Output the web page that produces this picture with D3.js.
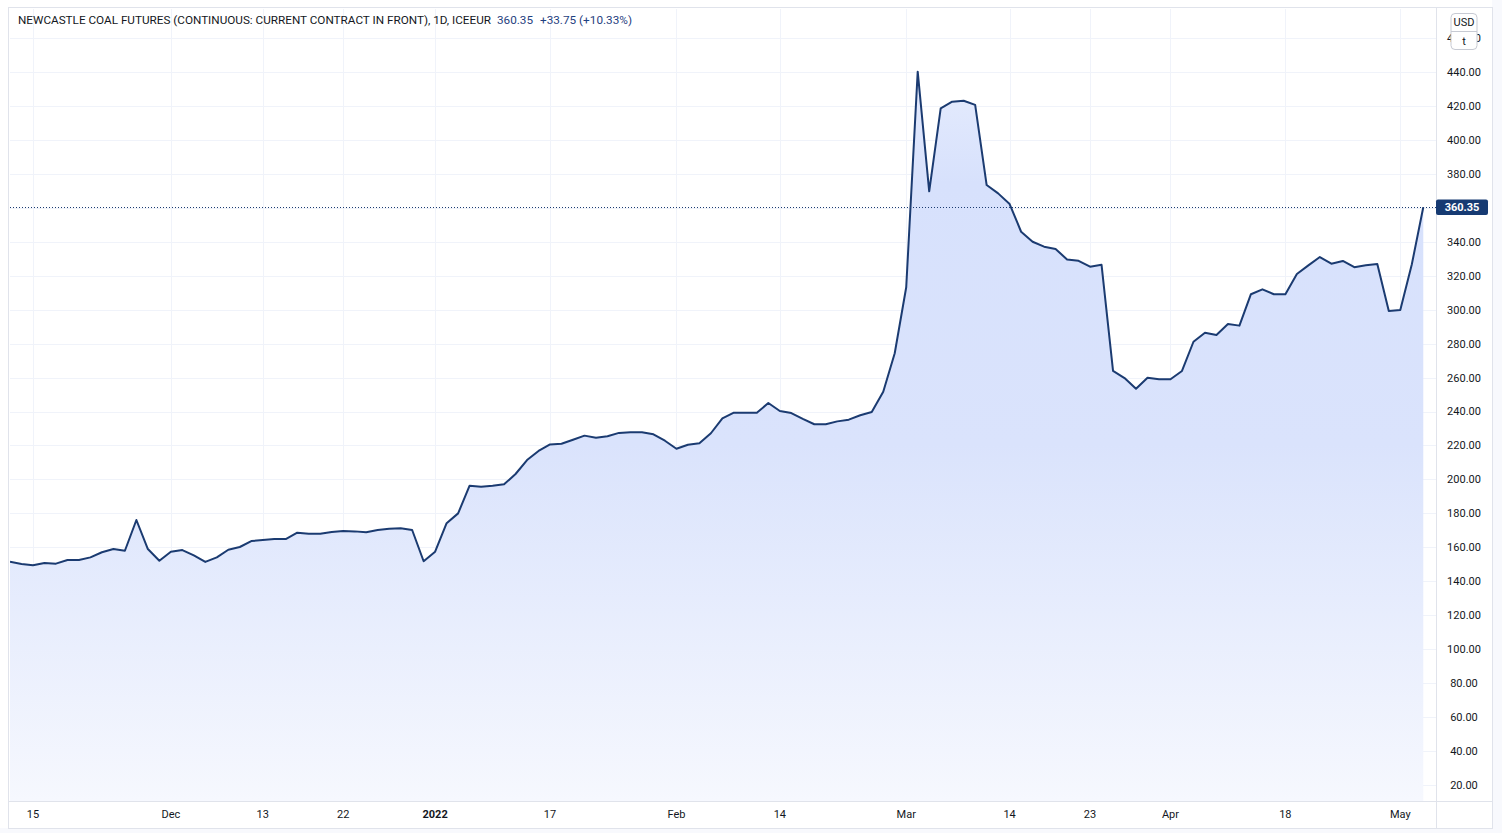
<!DOCTYPE html>
<html>
<head>
<meta charset="utf-8">
<script src="https://cdn.jsdelivr.net/npm/d3@7"></script>
<style>
  html, body { margin: 0; padding: 0; background: #ffffff; }
  svg { display: block; }
</style>
</head>
<body>
<svg id="chart" width="1502" height="833"></svg>
<script>
// ---- data ----
const titleText = "NEWCASTLE COAL FUTURES (CONTINUOUS: CURRENT CONTRACT IN FRONT), 1D, ICEEUR";
const lastText = "360.35";
const changeText = "+33.75 (+10.33%)";
const lastPrice = 360.35;

// daily closes, one per trading day (index 0 = first visible bar)
const closes = [
  151.5, 150.2, 149.4, 150.8, 150.4, 152.5, 152.5, 154.1, 157.1, 159.0,
  158.0, 176.1, 159.0, 152.1, 157.4, 158.4, 155.3, 151.4, 154.1, 158.6,
  160.2, 163.7, 164.3, 164.9, 164.9, 168.6, 168.0, 168.0, 169.0, 169.6,
  169.4, 168.9, 170.2, 171.0, 171.2, 170.2, 151.8, 157.4, 174.2, 180.0,
  196.3, 195.7, 196.3, 197.1, 203.2, 211.4, 216.8, 220.6, 221.0, 223.4,
  225.8, 224.6, 225.4, 227.4, 227.8, 227.8, 226.6, 222.8, 218.1, 220.4,
  221.3, 227.2, 236.0, 239.3, 239.3, 239.3, 245.0, 240.3, 239.1, 235.7,
  232.5, 232.5, 234.2, 235.2, 237.8, 239.7, 251.7, 274.3, 313.2, 440.2,
  369.7, 418.6, 422.5, 423.1, 420.6, 373.4, 368.5, 362.2, 345.9, 340.0,
  337.1, 335.7, 329.6, 328.8, 325.3, 326.4, 264.0, 259.7, 253.4, 259.9,
  259.0, 259.0, 263.9, 281.1, 286.4, 285.1, 291.6, 290.6, 309.1, 312.0,
  309.1, 309.1, 321.0, 326.1, 331.0, 327.1, 328.7, 325.0, 326.1, 326.9,
  299.2, 299.8, 326.6, 360.35
];

const timeTickIndex = [2, 14, 22, 29, 37, 47, 58, 67, 78, 87, 94, 101, 111, 121];
const timeTickLabels = ["15", "Dec", "13", "22", "2022", "17", "Feb", "14", "Mar", "14", "23", "Apr", "18", "May"];
const boldTickLabels = ["2022"];

const priceTicks = [20, 40, 60, 80, 100, 120, 140, 160, 180, 200, 220, 240, 260, 280, 300, 320, 340, 360, 380, 400, 420, 440, 460];

// ---- layout ----
const W = 1502, H = 833;
const frame = { left: 9, top: 8, right: 1492, bottom: 828 };
const plot = { left: 10, top: 9, right: 1436, bottom: 801 };
const lineColor = "#1b3b71";
const gridColor = "#f0f3fa";
const borderColor = "#e0e3eb";
const textColor = "#131722";
const FONT = "Roboto, 'Liberation Sans', sans-serif";

const svg = d3.select("#chart");

const x = d3.scaleLinear().domain([0, 123]).range([10, 10 + 123 * 11.49]);
const y = d3.scaleLinear().domain([20, 440]).range([785, 72]);

// background
svg.append("rect").attr("x", 0).attr("y", 0).attr("width", W).attr("height", H).attr("fill", "#ffffff");
svg.append("rect").attr("x", 0).attr("y", frame.bottom).attr("width", W).attr("height", H - frame.bottom).attr("fill", "#f8f9fd");
svg.append("rect").attr("x", frame.right).attr("y", 0).attr("width", W - frame.right).attr("height", H).attr("fill", "#f8f9fd");

const defs = svg.append("defs");
defs.append("clipPath").attr("id", "plotClip")
  .append("rect").attr("x", plot.left).attr("y", plot.top)
  .attr("width", plot.right - plot.left).attr("height", plot.bottom - plot.top);

const grad = defs.append("linearGradient").attr("id", "areaGrad")
  .attr("gradientUnits", "userSpaceOnUse")
  .attr("x1", 0).attr("x2", 0).attr("y1", plot.top).attr("y2", plot.bottom);
grad.append("stop").attr("offset", "0").attr("stop-color", "#eef2fe");
grad.append("stop").attr("offset", "0.22").attr("stop-color", "#d7e1fc");
grad.append("stop").attr("offset", "0.55").attr("stop-color", "#dae3fc");
grad.append("stop").attr("offset", "1").attr("stop-color", "#f6f8fe");

// grid
const grid = svg.append("g").attr("clip-path", "url(#plotClip)");
grid.selectAll("line.h").data(priceTicks).join("line")
  .attr("x1", plot.left).attr("x2", plot.right)
  .attr("y1", d => Math.round(y(d)) + 0.5).attr("y2", d => Math.round(y(d)) + 0.5)
  .attr("stroke", gridColor).attr("stroke-width", 1);
grid.selectAll("line.v").data(timeTickIndex).join("line")
  .attr("x1", d => Math.round(x(d)) + 0.5).attr("x2", d => Math.round(x(d)) + 0.5)
  .attr("y1", plot.top).attr("y2", plot.bottom)
  .attr("stroke", gridColor).attr("stroke-width", 1);

// area + line
const pg = svg.append("g").attr("clip-path", "url(#plotClip)");
const area = d3.area().x((d, i) => x(i)).y0(plot.bottom).y1(d => y(d));
const line = d3.line().x((d, i) => x(i)).y(d => y(d));
pg.append("path").datum(closes).attr("d", area).attr("fill", "url(#areaGrad)");
pg.append("path").datum(closes).attr("d", line)
  .attr("fill", "none").attr("stroke", lineColor).attr("stroke-width", 2)
  .attr("stroke-linejoin", "round");

// last price dotted line
pg.append("line")
  .attr("x1", plot.left).attr("x2", plot.right)
  .attr("y1", Math.round(y(lastPrice)) + 0.5).attr("y2", Math.round(y(lastPrice)) + 0.5)
  .attr("stroke", lineColor).attr("stroke-width", 1).attr("stroke-dasharray", "1,2");

// borders
svg.append("line").attr("x1", plot.right + 0.5).attr("x2", plot.right + 0.5)
  .attr("y1", frame.top).attr("y2", frame.bottom).attr("stroke", borderColor);
svg.append("line").attr("x1", frame.left).attr("x2", frame.right)
  .attr("y1", plot.bottom + 0.5).attr("y2", plot.bottom + 0.5).attr("stroke", borderColor);
svg.append("rect").attr("x", frame.left - 0.5).attr("y", frame.top - 0.5)
  .attr("width", frame.right - frame.left + 1).attr("height", frame.bottom - frame.top + 1)
  .attr("fill", "none").attr("stroke", borderColor);

// price axis labels
const pa = svg.append("g");
pa.selectAll("text").data(priceTicks).join("text")
  .attr("x", 1464).attr("y", d => y(d)).attr("dy", "0.36em")
  .attr("text-anchor", "middle")
  .attr("font-family", FONT).attr("font-size", 11).attr("fill", textColor)
  .text(d => d3.format(".2f")(d));

// time axis labels
const ta = svg.append("g");
ta.selectAll("text").data(timeTickIndex).join("text")
  .attr("x", d => x(d)).attr("y", 814).attr("dy", "0.36em")
  .attr("text-anchor", "middle")
  .attr("font-family", FONT).attr("font-size", 11).attr("fill", textColor)
  .attr("font-weight", (d, i) => boldTickLabels.includes(timeTickLabels[i]) ? "bold" : "normal")
  .text((d, i) => timeTickLabels[i]);

// last price label
const ly = y(lastPrice);
svg.append("rect").attr("x", 1436).attr("y", ly - 7.8).attr("width", 52).attr("height", 15.6)
  .attr("rx", 2).attr("fill", "#163a72");
svg.append("text").attr("x", 1462).attr("y", ly).attr("dy", "0.36em")
  .attr("text-anchor", "middle").attr("font-family", FONT).attr("font-size", 11)
  .attr("font-weight", "bold").attr("fill", "#ffffff").text(lastText);

// currency / unit box
const ub = svg.append("g");
ub.append("rect").attr("x", 1451).attr("y", 13.5).attr("width", 26).attr("height", 36)
  .attr("rx", 4).attr("fill", "#ffffff").attr("stroke", "#c7cad3");
ub.append("line").attr("x1", 1451).attr("x2", 1477).attr("y1", 31.5).attr("y2", 31.5).attr("stroke", "#c7cad3");
ub.append("text").attr("x", 1464).attr("y", 22.5).attr("dy", "0.36em").attr("text-anchor", "middle")
  .attr("font-family", FONT).attr("font-size", 11).attr("fill", textColor).text("USD");
ub.append("text").attr("x", 1464).attr("y", 41).attr("dy", "0.36em").attr("text-anchor", "middle")
  .attr("font-family", FONT).attr("font-size", 11).attr("fill", textColor).text("t");

// title
const tg = svg.append("g").attr("font-family", FONT).attr("font-size", 11.5);
tg.append("text").attr("x", 18).attr("y", 20).attr("dy", "0.36em").attr("fill", textColor)
  .attr("textLength", 473).attr("lengthAdjust", "spacingAndGlyphs").text(titleText);
tg.append("text").attr("x", 497).attr("y", 20).attr("dy", "0.36em").attr("fill", "#1f4180")
  .attr("textLength", 36).attr("lengthAdjust", "spacingAndGlyphs").text(lastText);
tg.append("text").attr("x", 540).attr("y", 20).attr("dy", "0.36em").attr("fill", "#1f4180")
  .attr("textLength", 92).attr("lengthAdjust", "spacingAndGlyphs").text(changeText);
</script>
</body>
</html>
